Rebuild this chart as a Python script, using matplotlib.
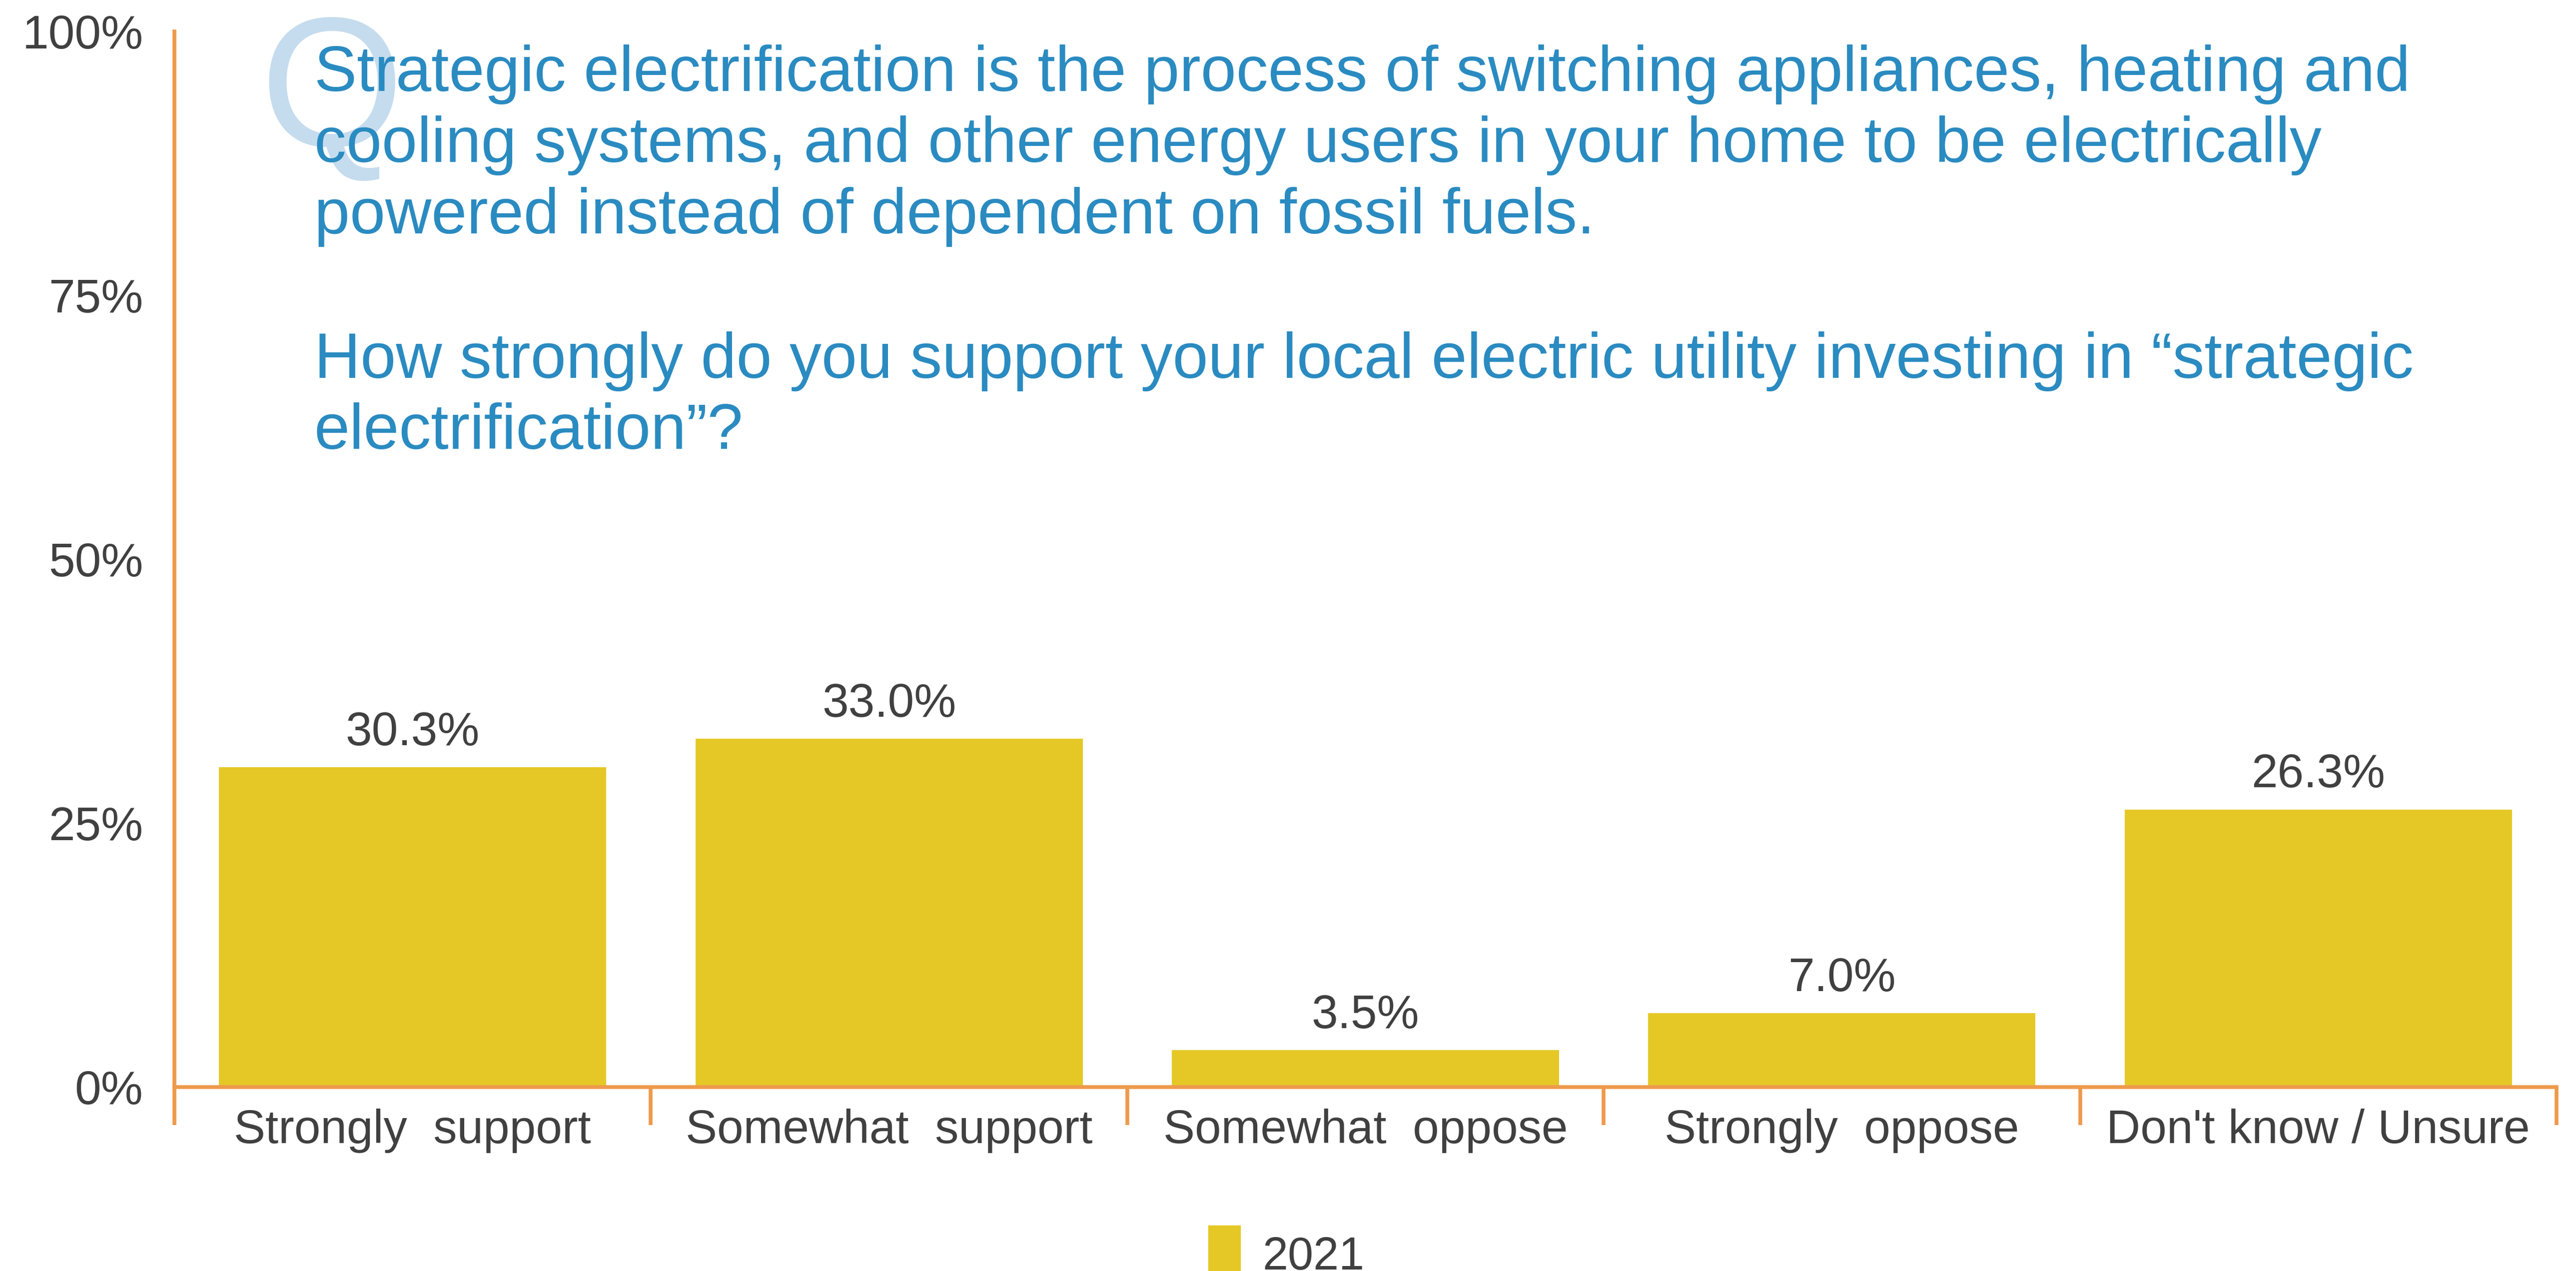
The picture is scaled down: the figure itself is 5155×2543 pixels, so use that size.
import matplotlib
matplotlib.use("Agg")
import matplotlib.pyplot as plt
from matplotlib.patches import Rectangle

# Survey responses
categories = ["Strongly  support", "Somewhat  support", "Somewhat  oppose",
              "Strongly  oppose", "Don't know / Unsure"]
values_2021 = [30.3, 33.0, 3.5, 7.0, 26.3]
value_labels = ["30.3%", "33.0%", "3.5%", "7.0%", "26.3%"]
y_ticks = [0, 25, 50, 75, 100]
y_tick_labels = ["0%", "25%", "50%", "75%", "100%"]
series_name = "2021"

question_lines = [
    "Strategic electrification is the process of switching appliances, heating and",
    "cooling systems, and other energy users in your home to be electrically",
    "powered instead of dependent on fossil fuels.",
    "How strongly do you support your local electric utility investing in \u201cstrategic",
    "electrification\u201d?",
]

BAR = "#E5C826"
AXIS = "#EE9A4D"
TEXT = "#404040"
BLUE = "#2A8BC1"
QBLUE = "#C5DCEE"

plt.rcParams["font.family"] = ["Liberation Sans", "DejaVu Sans"]

W, H = 5155, 2543
fig = plt.figure(figsize=(W / 100, H / 100), dpi=100)
fig.patch.set_facecolor("white")

left, right = 349 / W, 5116 / W
bottom, top = (H - 2175) / H, (H - 63) / H
ax = fig.add_axes([left, bottom, right - left, top - bottom])

x = list(range(len(categories)))
ax.bar(x, values_2021, width=0.813, color=BAR, zorder=2)

for xi, v, lab in zip(x, values_2021, value_labels):
    ax.annotate(lab, (xi, v), xytext=(0, 32), textcoords="offset points",
                ha="center", va="baseline", fontsize=68, color=TEXT)

ax.set_xlim(-0.5, len(categories) - 0.5)
ax.set_ylim(0, 100)

# category dividers as outward ticks, labels on minor ticks at centres
ax.set_xticks([i - 0.5 for i in range(len(categories) + 1)])
ax.set_xticklabels([])
ax.set_xticks(x, minor=True)
ax.set_xticklabels(categories, minor=True)
ax.tick_params(axis="x", which="major", direction="out", length=55,
               width=5.5, color=AXIS)
ax.tick_params(axis="x", which="minor", length=0, pad=31,
               labelsize=68, labelcolor=TEXT)

ax.set_yticks(y_ticks)
ax.set_yticklabels(y_tick_labels)
ax.tick_params(axis="y", length=0, pad=45, labelsize=68, labelcolor=TEXT)

for s in ("top", "right"):
    ax.spines[s].set_visible(False)
for s in ("left", "bottom"):
    ax.spines[s].set_color(AXIS)
    ax.spines[s].set_linewidth(5.5)
ax.set_facecolor("none")

# big decorative Q behind the question
fig.text(521 / W, 1 - 292 / H, "Q", fontsize=266, color=QBLUE,
         ha="left", va="baseline", zorder=1)

baselines = [182, 324, 467, 756, 898]
for line, b in zip(question_lines, baselines):
    fig.text(629 / W, 1 - b / H, line, fontsize=92, color=BLUE,
             ha="left", va="baseline", zorder=3)

# legend
fig.patches.append(Rectangle((2418 / W, 0), 64 / W, (H - 2452) / H,
                             transform=fig.transFigure, color=BAR))
fig.text(2526 / W, 1 - 2540 / H, series_name, fontsize=66, color=TEXT,
         ha="left", va="baseline")

fig.savefig("out.png", dpi=100, facecolor="white")
